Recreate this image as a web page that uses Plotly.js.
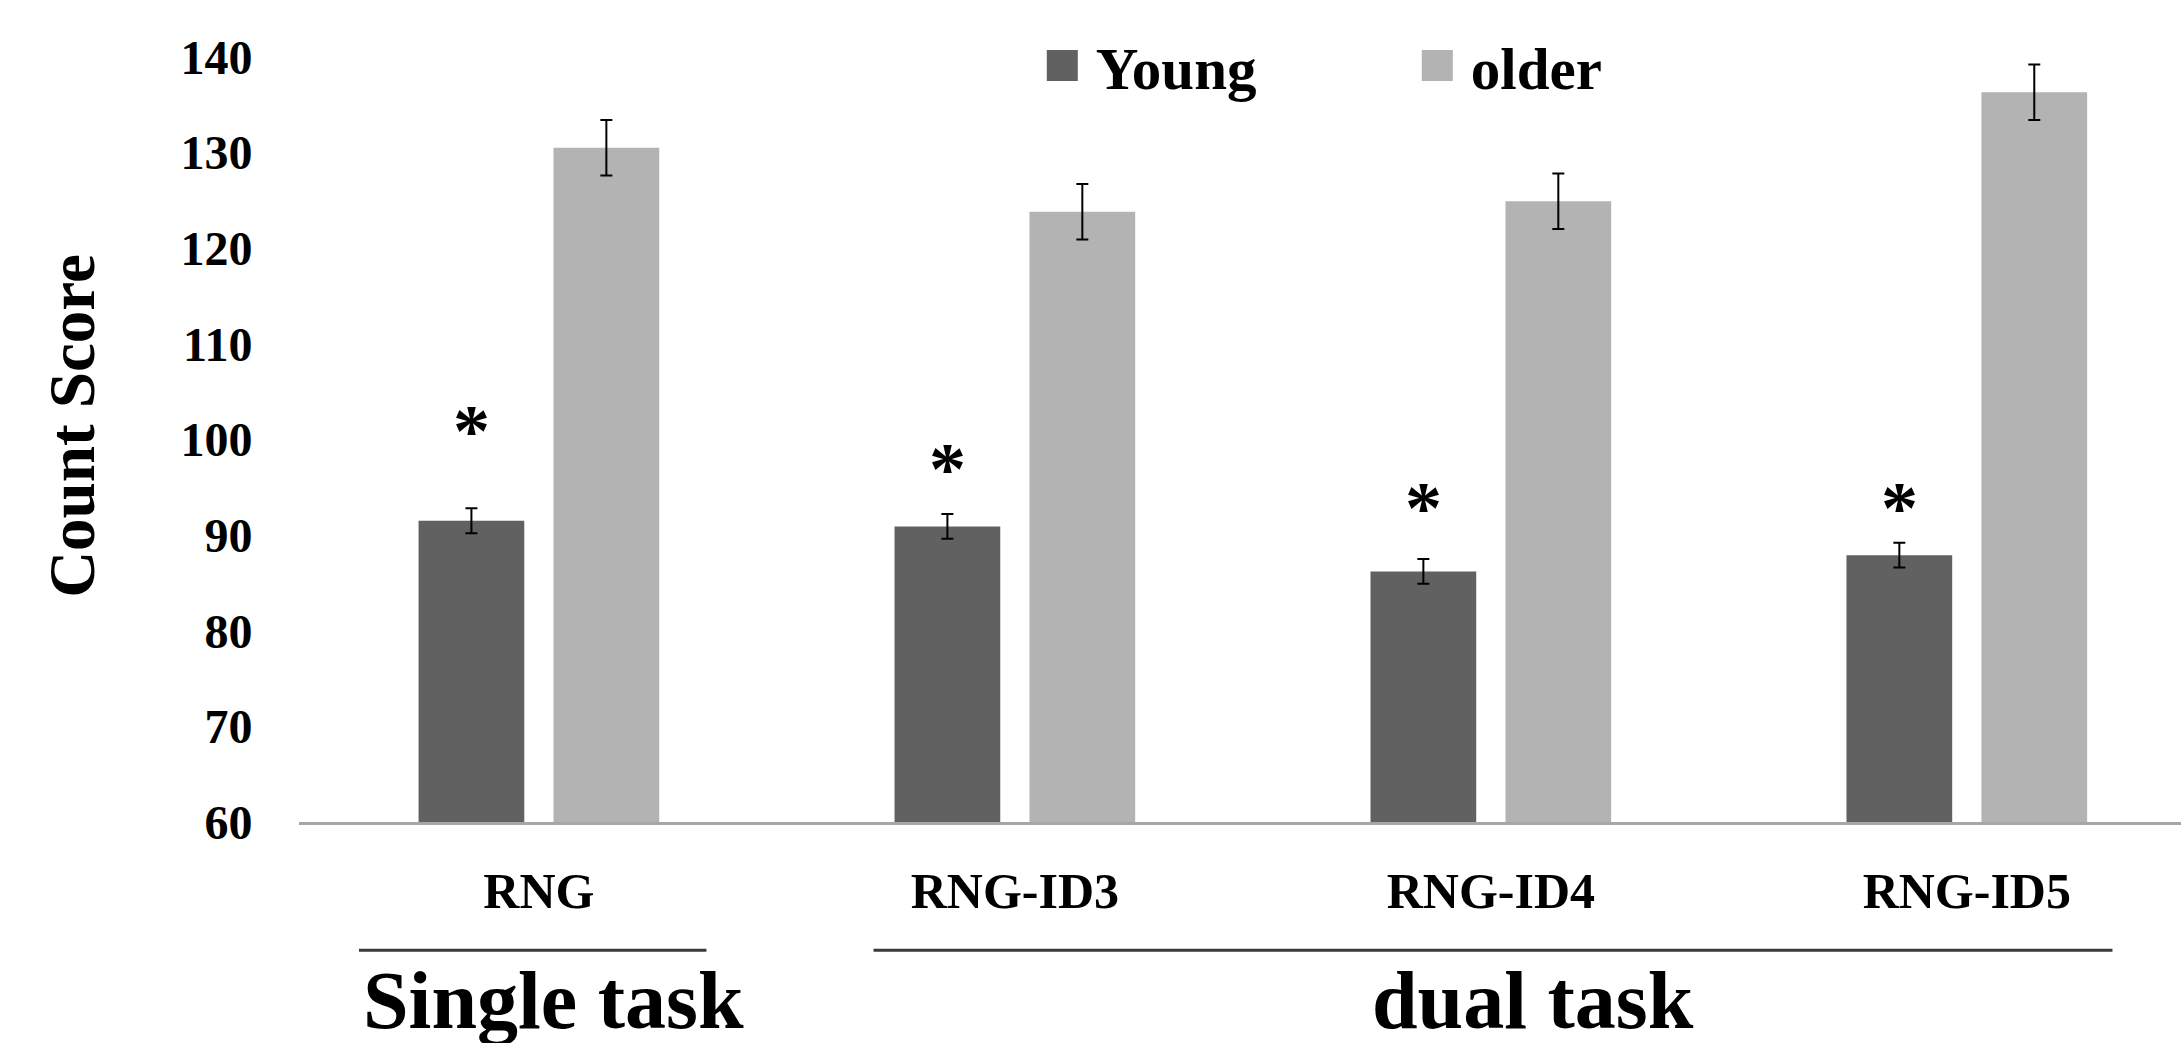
<!DOCTYPE html>
<html>
<head>
<meta charset="utf-8">
<script src="https://cdn.plot.ly/plotly-3.0.1.min.js"></script>
<style>
  html, body { margin: 0; padding: 0; background: #ffffff; }
  #chart { width: 2181px; height: 1043px; }
</style>
</head>
<body>
<div id="chart"></div>
<script>
// ---- data ----
const categories = ['RNG', 'RNG-ID3', 'RNG-ID4', 'RNG-ID5'];
const youngMean  = [91.5, 90.9, 86.2, 87.9];
const youngErr   = [1.3, 1.3, 1.3, 1.3];
const olderMean  = [130.5, 123.8, 124.9, 136.3];
const olderErr   = [2.9, 2.9, 2.9, 2.9];
const sigStarY   = [101.7, 97.7, 93.7, 93.7];
const yTicks     = [60, 70, 80, 90, 100, 110, 120, 130, 140];
const seriesNames = ['Young', 'older'];
const groupLabels = ['Single task', 'dual task'];

const FONT = '"Liberation Serif", "Times New Roman", serif';
const BARGAP = 0.433;
const LEG_ITEMWIDTH = 50;

const traces = [
  {
    type: 'bar', name: seriesNames[0], x: categories, y: youngMean,
    marker: { color: '#616161', line: { width: 0 } },
    error_y: { type: 'data', array: youngErr, visible: true, color: '#000000', thickness: 2, width: 6 }
  },
  {
    type: 'bar', name: seriesNames[1], x: categories, y: olderMean,
    marker: { color: '#b3b3b3', line: { width: 0 } },
    error_y: { type: 'data', array: olderErr, visible: true, color: '#000000', thickness: 2, width: 6 }
  }
];

const annotations = categories.map((c, i) => ({
  xref: 'x', yref: 'y', x: i - (1 - BARGAP) / 4, y: sigStarY[i],
  text: '*', showarrow: false, yanchor: 'middle', yshift: -8,
  font: { family: FONT, size: 74, color: '#000000', weight: 'bold' }
}));
annotations.push({
  xref: 'x', yref: 'paper', x: 0.03, y: -0.226, yanchor: 'middle', xanchor: 'center',
  text: '<b>' + groupLabels[0] + '</b>', showarrow: false,
  font: { family: FONT, size: 82, color: '#000000' }
});
annotations.push({
  xref: 'x', yref: 'paper', x: 2.088, y: -0.226, yanchor: 'middle', xanchor: 'center',
  text: '<b>' + groupLabels[1] + '</b>', showarrow: false,
  font: { family: FONT, size: 82, color: '#000000' }
});

const shapes = [
  { type: 'line', xref: 'x', yref: 'paper', x0: -0.378, x1: 0.352, y0: -0.162, y1: -0.162,
    line: { color: '#3a3a3a', width: 3 } },
  { type: 'line', xref: 'x', yref: 'paper', x0: 0.703, x1: 3.306, y0: -0.162, y1: -0.162,
    line: { color: '#3a3a3a', width: 3 } }
];

const layout = {
  width: 2181, height: 1043,
  margin: { l: 299, r: 0, t: 30, b: 221, pad: 0 },
  paper_bgcolor: '#ffffff', plot_bgcolor: '#ffffff',
  barmode: 'group', bargap: BARGAP, bargroupgap: 0.2165,
  hovermode: false,
  showlegend: true,
  legend: {
    orientation: 'h', x: 0.3915, xanchor: 'left', y: 0.955, yanchor: 'middle',
    font: { family: FONT, size: 59, color: '#000000', weight: 'bold' },
    itemwidth: LEG_ITEMWIDTH,
    entrywidth: 310, entrywidthmode: 'pixels',
    bgcolor: 'rgba(0,0,0,0)', borderwidth: 0, traceorder: 'normal'
  },
  xaxis: {
    type: 'category', range: [-0.504, 3.45], fixedrange: true,
    showline: true, linecolor: '#a6a6a6', linewidth: 3,
    showgrid: false, zeroline: false,
    ticks: 'outside', ticklen: 23, tickcolor: 'rgba(0,0,0,0)',
    tickfont: { family: FONT, size: 50, color: '#000000', weight: 'bold' }
  },
  yaxis: {
    range: [60, 142.8], fixedrange: true,
    tickvals: yTicks, ticktext: yTicks.map(String),
    showline: false, showgrid: false, zeroline: false,
    ticks: 'outside', ticklen: 36, tickcolor: 'rgba(0,0,0,0)',
    tickfont: { family: FONT, size: 48, color: '#000000', weight: 'bold' },
    title: { text: 'Count Score', standoff: 64,
      font: { family: FONT, size: 65, color: '#000000', weight: 'bold' } }
  },
  annotations: annotations,
  shapes: shapes
};

function enlargeLegendKeys(gd) {
  // square legend keys as large as in the reference
  const half = 15.5;
  const cx = LEG_ITEMWIDTH - 23.5;
  gd.querySelectorAll('.legend .legendpoints path').forEach(p => {
    const t = p.getAttribute('transform') || '';
    const m = /translate\(([-\d.]+)[ ,]*([-\d.]*)\)/.exec(t);
    const ty = m && m[2] ? parseFloat(m[2]) : 0;
    p.setAttribute('d', 'M' + half + ',' + half + 'H' + (-half) + 'V' + (-half) + 'H' + half + 'Z');
    p.setAttribute('transform', 'translate(' + cx + ',' + ty + ')');
  });
}

Plotly.newPlot('chart', traces, layout, { displayModeBar: false, staticPlot: true }).then(gd => {
  enlargeLegendKeys(gd);
  setTimeout(() => enlargeLegendKeys(gd), 50);
});
</script>
</body>
</html>
